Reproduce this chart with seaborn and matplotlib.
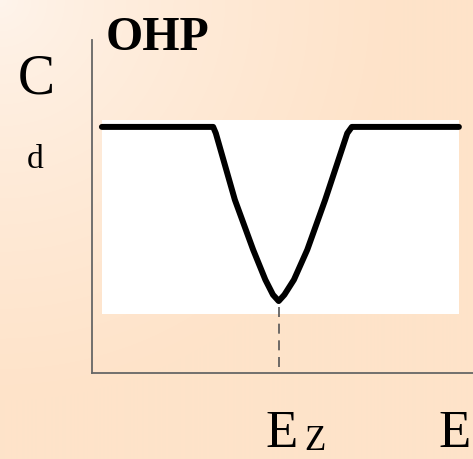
import numpy as np
import matplotlib
matplotlib.use("Agg")
import matplotlib.pyplot as plt
import seaborn as sns
import pandas as pd
from matplotlib.patches import Rectangle

# Data: differential capacitance vs potential (arbitrary units)
E = [0.26, 3.18, 3.25, 3.75, 4.23, 4.55, 4.75, 4.9, 5.05, 5.3, 5.65, 6.12, 6.7, 6.82, 9.63]
Cd = [7.39, 7.39, 7.2, 5.2, 3.7, 2.8, 2.35, 2.16, 2.35, 2.8, 3.7, 5.2, 7.2, 7.39, 7.39]
Ez = 4.9
Cd_min = 2.16
title_text = "OHP"
y_label_top = "C"
y_label_bottom = "d"
x_label = "E"
ez_main = "E"
ez_sub = "Z"

df = pd.DataFrame({"E": E, "Cd": Cd})

sns.set_theme(style="white")
plt.rcParams['font.family'] = ['Liberation Serif', 'DejaVu Serif']
plt.rcParams['text.color'] = 'black'

W, H = 473, 459
fig = plt.figure(figsize=(W / 100, H / 100), dpi=100)

# background radial gradient (light at top-left -> peach)
bg = fig.add_axes([0, 0, 1, 1])
yy, xx = np.mgrid[0:H, 0:W]
r = np.clip(np.sqrt(xx**2 + yy**2) / 400.0, 0, 1) ** 0.7
c0 = np.array([255, 245, 237]) / 255
c1 = np.array([254, 227, 201]) / 255
img = c0[None, None, :] * (1 - r[..., None]) + c1[None, None, :] * r[..., None]
bg.imshow(img, extent=[0, 1, 0, 1], aspect='auto', origin='upper')
bg.set_axis_off()

# main axes
left_px, right_px, top_px, bottom_px = 92, 473, 40, 373
ax = fig.add_axes([left_px / W, 1 - bottom_px / H, (right_px - left_px) / W, (bottom_px - top_px) / H])
ax.patch.set_alpha(0)
ax.set_xlim(0, 10)
ax.set_ylim(0, 10)

# white box behind curve
ax.add_patch(Rectangle((min(E), 1.77), max(E) - min(E), 7.6 - 1.77,
                       facecolor='white', edgecolor='none', zorder=1))

sns.lineplot(data=df, x="E", y="Cd", ax=ax, color='black', linewidth=4.3,
             sort=False, estimator=None, zorder=3)
ax.lines[-1].set_solid_joinstyle('round')

ax.plot([Ez, Ez], [0.18, Cd_min], color='#555555', linewidth=1.2,
        linestyle=(0, (6, 4)), zorder=2)

for s in ['top', 'right']:
    ax.spines[s].set_visible(False)
for s in ['left', 'bottom']:
    ax.spines[s].set_visible(True)
    ax.spines[s].set_color('#666666')
    ax.spines[s].set_linewidth(1.3)
ax.set_xticks([])
ax.set_yticks([])
ax.set_xlabel("")
ax.set_ylabel("")

# texts in figure pixel coords
def ftxt(x, y, s, **kw):
    fig.text(x / W, 1 - y / H, s, color='black', **kw)

ftxt(106, 50, title_text, fontsize=34.5, fontweight='bold', va='baseline', ha='left')
ftxt(18, 93, y_label_top, fontsize=40, va='baseline', ha='left')
ftxt(27, 168, y_label_bottom, fontsize=24, va='baseline', ha='left')
ftxt(265, 447, ez_main, fontsize=38, va='baseline', ha='left')
ftxt(304, 450, ez_sub, fontsize=25, va='baseline', ha='left')
ftxt(438, 447, x_label, fontsize=38, va='baseline', ha='left')

fig.savefig("out.png", dpi=100)
